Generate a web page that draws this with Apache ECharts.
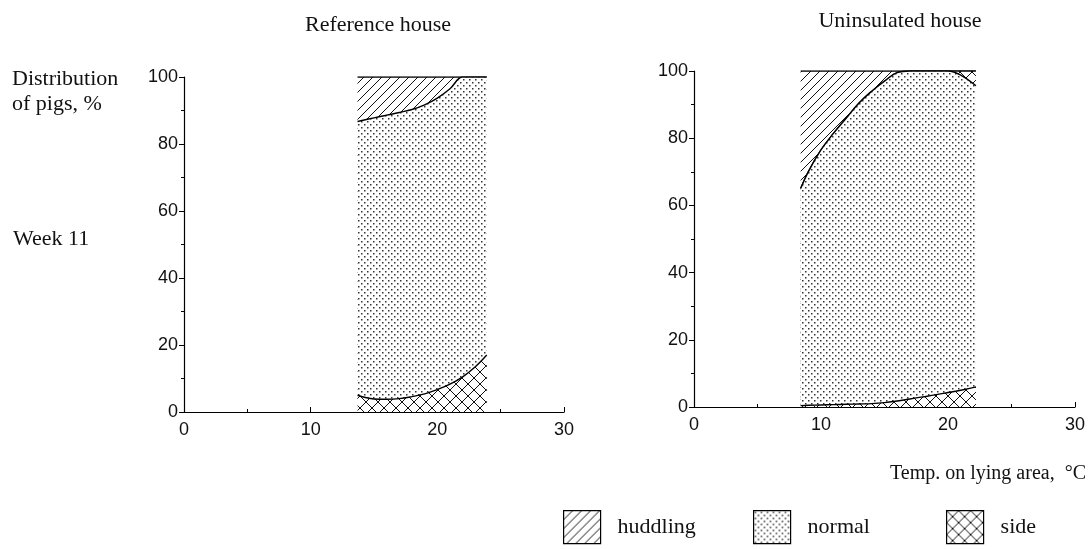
<!DOCTYPE html>
<html>
<head>
<meta charset="utf-8">
<script src="https://cdn.jsdelivr.net/npm/echarts@6/dist/echarts.min.js"></script>
<style>
  html, body { margin: 0; padding: 0; background: #fff; }
  #chart { width: 1088px; height: 549px; }
</style>
</head>
<body>
<div id="chart"></div>
<script>
// temperature on lying area (°C) and share of pigs (%) per lying posture
var leftTemps = [13.7, 15, 16, 17, 18, 19, 20, 21, 22, 23, 23.9];
var leftSide = [5, 3.9, 3.8, 4.0, 4.6, 5.4, 6.7, 8.3, 10.5, 13.5, 17];
var leftHuddling = [13.3, 12.2, 11.4, 10.6, 9.7, 8.3, 6.3, 3.5, 0, 0, 0];

var rightTemps = [8.4, 9, 10, 11, 12, 13, 14, 15, 16, 17, 18, 19, 20, 21, 22.2];
var rightSide = [0.4, 0.5, 0.6, 0.7, 0.8, 0.9, 1.0, 1.3, 1.8, 2.4, 3.0, 3.6, 4.3, 5.0, 6.0];
var rightHuddling = [35, 30, 23.5, 18.5, 14, 9.5, 6, 3, 0.5, 0, 0, 0, 0, 0, 0];
var rightSideTop = [0, 0, 0, 0, 0, 0, 0, 0, 0, 0, 0, 0, 0, 1.2, 4.4];

var xTicks = [0, 10, 20, 30];
var yTicks = [0, 20, 40, 60, 80, 100];

var serif = "Liberation Serif";
var sans = "Liberation Sans";

// fill patterns like the printed figure
function makePattern(kind) {
  var s = kind === "dots" ? 6 : (kind === "cross" ? 12 : 9);
  var c = document.createElement("canvas");
  c.width = s;
  c.height = s;
  var ctx = c.getContext("2d");
  ctx.fillStyle = "#fff";
  ctx.fillRect(0, 0, s, s);
  if (kind === "dots") {
    ctx.fillStyle = "#333";
    ctx.fillRect(1, 1, 1.5, 1.5);
    ctx.fillRect(4, 4, 1.5, 1.5);
    return { image: c, repeat: "repeat" };
  }
  ctx.strokeStyle = "#111";
  ctx.lineWidth = 1;
  ctx.beginPath();
  for (var k = -s; k <= s; k += s) {
    ctx.moveTo(k, s);
    ctx.lineTo(k + s, 0);
    if (kind === "cross") {
      ctx.moveTo(k, 0);
      ctx.lineTo(k + s, s);
    }
  }
  ctx.stroke();
  return { image: c, repeat: "repeat" };
}

var hatch = makePattern("hatch");
var dots = makePattern("dots");
var cross = makePattern("cross");

// build layer tops by adding shares from the bottom up
function cumulate(lists) {
  var out = [];
  var acc = lists[0].map(function () { return 0; });
  lists.forEach(function (l) {
    acc = acc.map(function (v, i) { return v + l[i]; });
    out.push(acc.slice());
  });
  return out;
}

function layer(name, gi, temps, tops, fill, z) {
  return {
    name: name,
    type: "line",
    xAxisIndex: gi,
    yAxisIndex: gi,
    data: temps.map(function (t, i) { return [t, tops[i]]; }),
    symbol: "none",
    smooth: 0.4,
    z: z,
    lineStyle: { color: "#000", width: 1.4 },
    itemStyle: { color: "#000" },
    areaStyle: { color: fill, opacity: 1 },
  };
}

var leftNormal = leftTemps.map(function (t, i) { return 100 - leftSide[i] - leftHuddling[i]; });
var rightNormal = rightTemps.map(function (t, i) {
  return 100 - rightSide[i] - rightHuddling[i] - rightSideTop[i];
});

var L = cumulate([leftSide, leftNormal, leftHuddling]);
var R = cumulate([rightSide, rightNormal, rightSideTop, rightHuddling]);

function xAxis(gi) {
  return {
    type: "value",
    gridIndex: gi,
    min: 0,
    max: 30,
    interval: 10,
    axisLine: { lineStyle: { color: "#000", width: 1.2 } },
    axisTick: { inside: true, length: 5, lineStyle: { color: "#000" } },
    minorTick: { show: true, splitNumber: 2, length: 3, lineStyle: { color: "#000" } },
    splitLine: { show: false },
    axisLabel: {
      color: "#111",
      fontFamily: sans,
      fontSize: 18,
      margin: 9,
      customValues: xTicks,
    },
  };
}

function yAxis(gi) {
  return {
    type: "value",
    gridIndex: gi,
    min: 0,
    max: 100,
    interval: 20,
    axisLine: { show: true, lineStyle: { color: "#000", width: 1.2 } },
    axisTick: { show: true, length: 5, lineStyle: { color: "#000" } },
    minorTick: { show: true, splitNumber: 2, length: 3, lineStyle: { color: "#000" } },
    splitLine: { show: false },
    axisLabel: {
      color: "#111",
      fontFamily: sans,
      fontSize: 18,
      margin: 6,
      customValues: yTicks,
    },
  };
}

function legendItem(name, fill, left) {
  return {
    left: left,
    top: 505,
    selectedMode: false,
    itemWidth: 37,
    itemHeight: 33,
    data: [{
      name: name,
      icon: "rect",
      itemStyle: { color: fill, borderColor: "#000", borderWidth: 1.2 },
    }],
    textStyle: { fontFamily: serif, fontSize: 22, color: "#111", padding: [0, 0, 0, 12] },
  };
}

var chart = echarts.init(document.getElementById("chart"));
chart.setOption({
  backgroundColor: "#fff",
  animation: false,
  title: [
    { text: "Reference house", left: 373, top: 9, textAlign: "center",
      textStyle: { fontFamily: serif, fontSize: 22, fontWeight: "normal", color: "#111" } },
    { text: "Uninsulated house", left: 895, top: 5, textAlign: "center",
      textStyle: { fontFamily: serif, fontSize: 22, fontWeight: "normal", color: "#111" } },
  ],
  grid: [
    { left: 184, top: 77, width: 380, height: 335 },
    { left: 694, top: 71, width: 381, height: 336 },
  ],
  xAxis: [xAxis(0), xAxis(1)],
  yAxis: [yAxis(0), yAxis(1)],
  legend: [
    legendItem("huddling", hatch, 558),
    legendItem("normal", dots, 748),
    legendItem("side", cross, 941),
  ],
  graphic: [
    { type: "text", left: 12, top: 67,
      style: { text: "Distribution\nof pigs, %", font: "22px " + serif, fill: "#111", lineHeight: 25 } },
    { type: "text", left: 13, top: 228,
      style: { text: "Week 11", font: "22px " + serif, fill: "#111" } },
    { type: "text", right: 2, top: 464,
      style: { text: "Temp. on lying area,  °C", font: "20px " + serif, fill: "#111" } },
  ],
  series: [
    layer("huddling", 0, leftTemps, L[2], hatch, 2),
    layer("normal", 0, leftTemps, L[1], dots, 3),
    layer("side", 0, leftTemps, L[0], cross, 4),
    layer("huddling", 1, rightTemps, R[3], hatch, 2),
    layer("side", 1, rightTemps, R[2], cross, 3),
    layer("normal", 1, rightTemps, R[1], dots, 4),
    layer("side", 1, rightTemps, R[0], cross, 5),
  ],
});
</script>
</body>
</html>
